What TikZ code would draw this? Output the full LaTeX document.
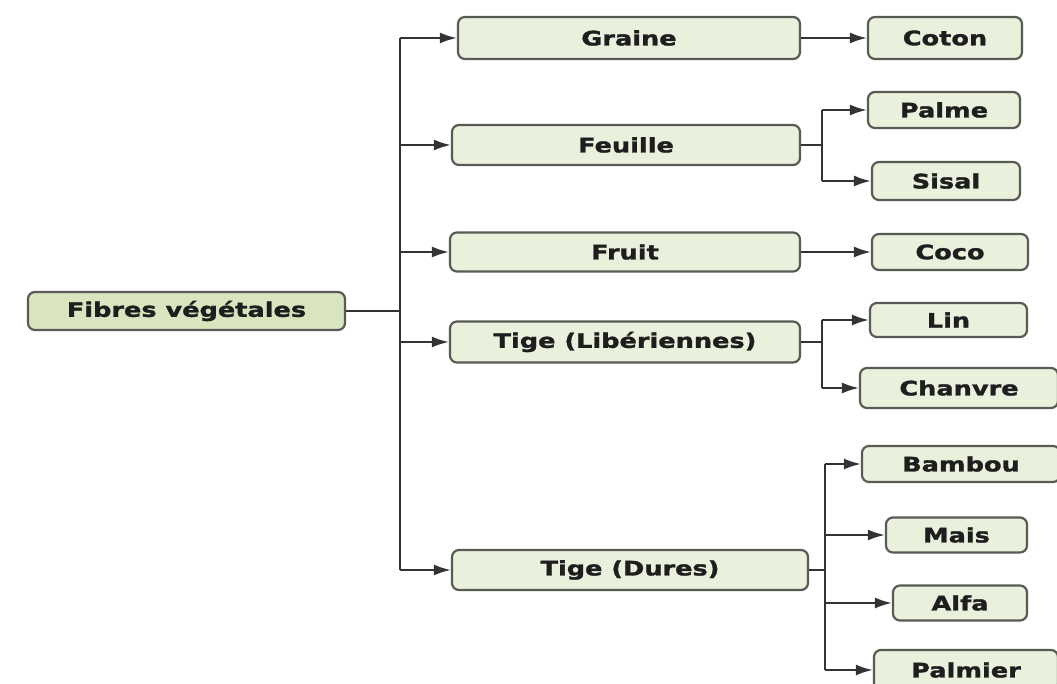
\documentclass[tikz,border=0pt]{standalone}
\usepackage{fontspec}
\newfontfamily\lbl{DejaVu Sans Bold}[FakeStretch=1.28, FakeBold=1.5]
\usetikzlibrary{arrows.meta}
\definecolor{boxfill}{HTML}{E9F0DC}
\definecolor{mainfill}{HTML}{D9E5BF}
\definecolor{boxline}{HTML}{5A5A55}
\definecolor{conn}{HTML}{333333}
\definecolor{txt}{HTML}{1E1E1E}
\tikzset{
  box/.style={draw=boxline, line width=2.2pt, fill=boxfill, rounded corners=7pt,
    inner sep=0pt, font=\lbl\fontsize{20}{23}\selectfont, text=txt},
  mainbox/.style={box, fill=mainfill},
  link/.style={draw=conn, line width=2pt},
  arr/.style={link, -{Latex[length=17pt,width=11pt]}}
}
\begin{document}
\begin{tikzpicture}[x=1pt,y=-1pt]
\useasboundingbox (0,0) rectangle (1057,684);
\clip (0,0) rectangle (1057,684);
% main
\node[mainbox, minimum width=317pt, minimum height=38pt] (fib) at (186.5,311) {Fibres végétales};
% level 1
\node[box, minimum width=342pt, minimum height=42pt] (graine) at (629,38) {Graine};
\node[box, minimum width=348pt, minimum height=40pt] (feuille) at (626,145) {Feuille};
\node[box, minimum width=350pt, minimum height=39pt] (fruit) at (625,252) {Fruit};
\node[box, minimum width=350pt, minimum height=41pt] (tigel) at (625,342) {Tige (Libériennes)};
\node[box, minimum width=356pt, minimum height=40pt] (tiged) at (630,570) {Tige (Dures)};
% level 2
\node[box, minimum width=154pt, minimum height=42pt] (coton) at (945,38) {Coton};
\node[box, minimum width=152pt, minimum height=36pt] (palme) at (944,110) {Palme};
\node[box, minimum width=148pt, minimum height=38pt] (sisal) at (946,181) {Sisal};
\node[box, minimum width=156pt, minimum height=36pt] (coco) at (950,252) {Coco};
\node[box, minimum width=157pt, minimum height=34pt] (lin) at (948.5,320) {Lin};
\node[box, minimum width=198pt, minimum height=40pt] (chanvre) at (959,388) {Chanvre};
\node[box, minimum width=198pt, minimum height=36pt] (bambou) at (961,464) {Bambou};
\node[box, minimum width=141pt, minimum height=35pt] (mais) at (956.5,535) {Mais};
\node[box, minimum width=134pt, minimum height=35pt] (alfa) at (960,603) {Alfa};
\node[box, minimum width=184pt, minimum height=40pt] (palmier) at (966,670) {Palmier};
% trunk
\coordinate (tj) at (400,311);
\coordinate (t1) at (400,38);
\coordinate (t2) at (400,145);
\coordinate (t3) at (400,252);
\coordinate (t4) at (400,342);
\coordinate (t5) at (400,570);
\draw[link] (fib.east) -- (tj);
\draw[link] (t1) -- (t5);
\draw[arr] (t1) -- (graine.west);
\draw[arr] (t2) -- (feuille.west);
\draw[arr] (t3) -- (fruit.west);
\draw[arr] (t4) -- (tigel.west);
\draw[arr] (t5) -- (tiged.west);
% graine
\draw[arr] (graine.east) -- (coton.west);
% feuille
\coordinate (f0) at (822,145);
\coordinate (f1) at (822,110);
\coordinate (f2) at (822,181);
\draw[link] (feuille.east) -- (f0);
\draw[link] (f1) -- (f2);
\draw[arr] (f1) -- (palme.west);
\draw[arr] (f2) -- (sisal.west);
% fruit
\draw[arr] (fruit.east) -- (coco.west);
% tige lib
\coordinate (l0) at (822,342);
\coordinate (l1) at (822,320);
\coordinate (l2) at (822,388);
\draw[link] (tigel.east) -- (l0);
\draw[link] (l1) -- (l2);
\draw[arr] (l1) -- (lin.west);
\draw[arr] (l2) -- (chanvre.west);
% tige dures
\coordinate (d0) at (825,570);
\coordinate (d1) at (825,464);
\coordinate (d2) at (825,535);
\coordinate (d3) at (825,603);
\coordinate (d4) at (825,670);
\draw[link] (tiged.east) -- (d0);
\draw[link] (d1) -- (d4);
\draw[arr] (d1) -- (bambou.west);
\draw[arr] (d2) -- (mais.west);
\draw[arr] (d3) -- (alfa.west);
\draw[arr] (d4) -- (palmier.west);
\end{tikzpicture}
\end{document}
